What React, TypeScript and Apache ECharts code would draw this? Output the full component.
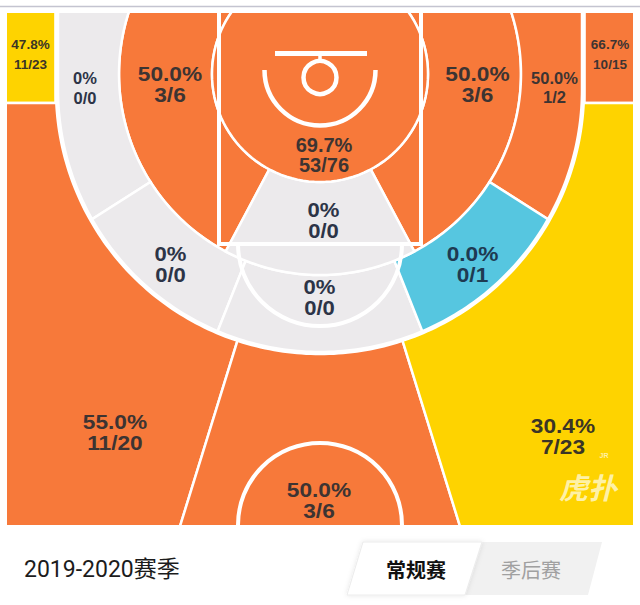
import React, { useEffect, useRef } from 'react';
import * as echarts from 'echarts';

// ---------------- data ----------------
const zoneNames = ['左底角三分', '右底角三分', '左侧三分', '正面三分', '右侧三分', '左侧中投', '右侧中投', '左侧外中投', '右侧外中投', '左肘区', '罚球线外', '右肘区', '油漆区', '篮下'];
const made = [11, 10, 11, 3, 7, 3, 3, 0, 1, 0, 0, 0, 0, 53];
const attempts = [23, 15, 20, 6, 23, 6, 6, 0, 2, 0, 0, 1, 0, 76];
const heat = ['avg', 'hot', 'hot', 'hot', 'avg', 'hot', 'hot', 'none', 'hot', 'none', 'none', 'cold', 'none', 'hot'];
const seasonLabel = '2019-2020赛季';
const tabs = ['常规赛', '季后赛'];

// ---------------- styles ----------------
const heatColor: Record<string, string> = { hot: '#F7793A', avg: '#FED300', cold: '#56C6E0', none: '#ECEAEC' };
const textColor: Record<string, string> = { hot: '#3d3432', avg: '#3b3526', cold: '#1e3a52', none: '#2c3447' };

// ---------------- court geometry (page pixels) ----------------
const O = [320, 74];
const R_RA = 108;
const R_IN = 201;
const C3Y = 90;
const R3 = 263;
const X3L = 320 - R3;
const X3R = 320 + R3;
const A_OUT_SIDE = 32.5;
const A_OUT_MID = 68.3;
const A_PAINT = 62;
const A_THREE = 72.8;
const BOX_BOTTOM = 103;

const rad = (d: number) => (d * Math.PI) / 180;
const onCircle = (r: number, deg: number) => [O[0] + r * Math.cos(rad(deg)), O[1] + r * Math.sin(rad(deg))];
const onThree = (deg: number) => {
  const c = Math.cos(rad(deg));
  const s = Math.sin(rad(deg));
  if (Math.abs(c) > 1e-6) {
    const xv = c < 0 ? X3L : X3R;
    const t = (xv - O[0]) / c;
    const y = O[1] + t * s;
    if (t > 0 && y <= C3Y) return [xv, y];
  }
  const dy = O[1] - C3Y;
  const b = s * dy;
  const t = -b + Math.sqrt(b * b - dy * dy + R3 * R3);
  return [O[0] + t * c, O[1] + t * s];
};
const onRayY = (deg: number, y: number) => {
  const c = Math.cos(rad(deg));
  const s = Math.sin(rad(deg));
  const t = (y - O[1]) / s;
  return [O[0] + t * c, y];
};
const steps = (a: number, b: number, step = 1) => {
  const n = Math.max(2, Math.ceil(Math.abs(b - a) / step) + 1);
  return Array.from({ length: n }, (_, i) => a + ((b - a) * i) / (n - 1));
};
const annulus = (r1: number, r2: number, a: number, b: number) => [
  ...steps(a, b).map((d) => onCircle(r1, d)),
  ...steps(b, a).map((d) => onCircle(r2, d)),
];
const ring3 = (a: number, b: number) => [
  ...steps(a, b).map((d) => onCircle(R_IN, d)),
  ...steps(b, a).map((d) => onThree(d)),
];
const arcY = (y: number) => Math.sqrt(R3 * R3 - (y - C3Y) * (y - C3Y));
const aLeftStart = (Math.atan2(BOX_BOTTOM - O[1], 320 - arcY(BOX_BOTTOM) - O[0]) * 180) / Math.PI;
const aRightStart = (Math.atan2(BOX_BOTTOM - O[1], 320 + arcY(BOX_BOTTOM) - O[0]) * 180) / Math.PI;

const zoneShapes: number[][][] = [
  [[-5, -5], [55.5, -5], [55.5, BOX_BOTTOM], [-5, BOX_BOTTOM]],
  [[584.5, -5], [645, -5], [645, BOX_BOTTOM], [584.5, BOX_BOTTOM]],
  [[-5, BOX_BOTTOM], ...steps(aLeftStart, 180 - A_THREE).map(onThree), onRayY(180 - A_THREE, 545), [-5, 545]],
  [onRayY(A_THREE, 545), ...steps(A_THREE, 180 - A_THREE).map(onThree), onRayY(180 - A_THREE, 545)],
  [[645, BOX_BOTTOM], ...steps(aRightStart, A_THREE).map(onThree), onRayY(A_THREE, 545), [645, 545]],
  annulus(R_RA, R_IN, 180 - A_PAINT, 240),
  annulus(R_RA, R_IN, -60, A_PAINT),
  ring3(180 - A_OUT_SIDE, 240),
  ring3(-60, A_OUT_SIDE),
  ring3(180 - A_OUT_MID, 180 - A_OUT_SIDE),
  ring3(A_OUT_MID, 180 - A_OUT_MID),
  ring3(A_OUT_SIDE, A_OUT_MID),
  annulus(R_RA, R_IN, A_PAINT, 180 - A_PAINT),
  steps(0, 360, 3).map((d) => onCircle(R_RA, d)),
];

// label anchor: [x, y line1, y line2, font size, horizontal stretch]
const labelPos = [
  [30.5, 44, 64.5, 13.5, 1],
  [610, 44, 64.5, 13.5, 1],
  [115, 422, 443, 21, 1.08],
  [319, 490, 511, 21, 1.08],
  [563, 425.5, 446.5, 21, 1.08],
  [170, 74, 95, 21, 1.08],
  [477.5, 74, 95, 21, 1.08],
  [85, 77.5, 97.5, 16.5, 1],
  [554.5, 77.5, 97, 16.5, 1],
  [170.5, 254, 275, 21, 1.05],
  [319.5, 287, 308, 21, 1.05],
  [472.5, 254, 275, 21, 1.08],
  [323.5, 210, 231, 21, 1.05],
  [324, 144.5, 164.5, 20, 1],
];

const pctText = (i: number) => (attempts[i] === 0 ? '0%' : ((made[i] / attempts[i]) * 100).toFixed(1) + '%');

export default function App() {
  const ref = useRef<HTMLDivElement>(null);
  useEffect(() => {
    document.body.style.margin = '0';
    const chart = echarts.init(ref.current!, null, { renderer: 'svg' });
    const LF = '"Liberation Sans", Arial, sans-serif';
    const CJK = '"Noto Sans CJK SC", "Noto Sans", sans-serif';

    const zoneItem = (params: any, api: any) => {
      const i = api.value(0);
      const pts = zoneShapes[i].map((p) => api.coord(p));
      return {
        type: 'polygon',
        shape: { points: pts },
        style: { fill: heatColor[heat[i]], stroke: '#ffffff', lineWidth: 2.5 },
      };
    };

    const markings = (params: any, api: any) => {
      const P = (x: number, y: number) => api.coord([x, y]);
      const S = (r: number) => api.size([r, 0])[0];
      const threePts = [P(X3L, -5), P(X3L, C3Y), ...steps(180, 0, 1).map((d) => {
        const x = 320 + R3 * Math.cos(rad(d));
        const y = C3Y + R3 * Math.sin(rad(d));
        return P(x, y);
      }), P(X3R, C3Y), P(X3R, -5)];
      const line = { stroke: '#ffffff', fill: null, lineWidth: 4 };
      const ra = P(320, 70);
      const hoop = P(320, 77.5);
      const ft = P(320, 244);
      const hc = P(320, 525);
      const bb0 = P(275, 51);
      const bb1 = P(367, 56);
      return {
        type: 'group',
        children: [
          { type: 'polyline', shape: { points: threePts }, style: { ...line, lineWidth: 4.5 } },
          { type: 'polyline', shape: { points: [P(219, -5), P(219, 244), P(421, 244), P(421, -5)] }, style: line },
          { type: 'arc', shape: { cx: ft[0], cy: ft[1], r: S(82), startAngle: 0, endAngle: Math.PI, clockwise: true }, style: line },
          { type: 'arc', shape: { cx: hc[0], cy: hc[1], r: S(82), startAngle: Math.PI, endAngle: Math.PI * 2, clockwise: true }, style: line },
          { type: 'arc', shape: { cx: ra[0], cy: ra[1], r: S(55.5), startAngle: 0, endAngle: Math.PI, clockwise: true }, style: { ...line, lineWidth: 4.5 } },
          { type: 'circle', shape: { cx: hoop[0], cy: hoop[1], r: S(16.5) }, style: { ...line, lineWidth: 4.5 } },
          { type: 'line', shape: { x1: hoop[0], y1: P(0, 55)[1], x2: hoop[0], y2: P(0, 61.5)[1] }, style: { stroke: '#fff', lineWidth: 3.5 } },
          { type: 'rect', shape: { x: bb0[0], y: bb0[1], width: bb1[0] - bb0[0], height: bb1[1] - bb0[1] }, style: { fill: '#fff' } },
        ],
      };
    };

    const labelItem = (params: any, api: any) => {
      const i = api.value(0);
      const [x, y1, y2, fs, sx] = labelPos[i];
      const a = api.coord([x, y1]);
      const b = api.coord([x, y2]);
      const st = (t: string) => ({
        text: t,
        fill: textColor[heat[i]],
        font: `bold ${fs}px ${LF}`,
        align: 'center',
        verticalAlign: 'middle',
        textAlign: 'center',
        textVerticalAlign: 'middle',
      });
      return {
        type: 'group',
        children: [
          { type: 'text', x: a[0], y: a[1], scaleX: sx, style: st(pctText(i)) },
          { type: 'text', x: b[0], y: b[1], scaleX: sx, style: st(`${made[i]}/${attempts[i]}`) },
        ],
      };
    };

    const idx = zoneNames.map((_, i) => [i]);
    const center = { textAlign: 'center', textVerticalAlign: 'middle', align: 'center', verticalAlign: 'middle' };

    chart.setOption({
      animation: false,
      grid: { left: 7, top: 13, width: 626, height: 512, show: false },
      xAxis: { type: 'value', min: 7, max: 633, show: false },
      yAxis: { type: 'value', min: 13, max: 525, inverse: true, show: false },
      series: [
        { type: 'custom', name: 'zones', clip: true, renderItem: zoneItem, data: idx, z: 1, silent: true },
        { type: 'custom', name: 'court', clip: true, renderItem: markings, data: [[0]], z: 2, silent: true },
        { type: 'custom', name: 'labels', clip: true, renderItem: labelItem, data: idx, z: 3, silent: true },
      ],
      graphic: [
        { type: 'line', z: 100, shape: { x1: 0, y1: 6.5, x2: 640, y2: 6.5 }, style: { stroke: '#c4c4d0', lineWidth: 1.5 } },
        { type: 'text', z: 100, x: 588, y: 486, style: { text: '虎扑', fill: 'rgba(255,250,215,0.78)', font: `italic bold 29px ${CJK}`, ...center } },
        { type: 'text', z: 100, x: 604, y: 455, style: { text: 'JR', fill: 'rgba(255,250,215,0.78)', font: `bold 7px ${LF}`, ...center } },
        { type: 'text', z: 100, x: 24, y: 569, style: { text: seasonLabel, fill: '#1c1c1c', font: `23px Roboto, ${CJK}`, textVerticalAlign: 'middle', verticalAlign: 'middle' } },
        { type: 'polygon', z: 100, shape: { points: [[363, 542], [602, 542], [588, 595], [347, 595]] }, style: { fill: '#f1f1f1' } },
        { type: 'polygon', z: 101, shape: { points: [[363, 542], [482, 542], [465, 595], [347, 595]] }, style: { fill: '#ffffff', stroke: '#ececec', lineWidth: 1, shadowBlur: 5, shadowColor: 'rgba(0,0,0,0.10)' } },
        { type: 'text', z: 102, x: 416, y: 569, style: { text: tabs[0], fill: '#111111', font: `bold 20px ${CJK}`, ...center } },
        { type: 'text', z: 102, x: 531, y: 569, style: { text: tabs[1], fill: '#a0a0a0', font: `20px ${CJK}`, ...center } },
      ],
    });
    return () => chart.dispose();
  }, []);
  return <div ref={ref} style={{ width: 640, height: 605 }} />;
}
